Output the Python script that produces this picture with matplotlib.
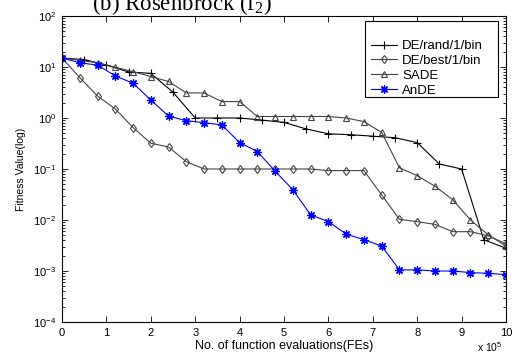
import numpy as np
import matplotlib.pyplot as plt
from matplotlib.patches import Rectangle

plt.rcParams['font.family'] = ['Liberation Sans', 'DejaVu Sans']
plt.rcParams['mathtext.fontset'] = 'custom'
plt.rcParams['mathtext.rm'] = 'Liberation Sans'
plt.rcParams['mathtext.it'] = 'Liberation Sans:italic'

# function evaluations (x 10^5) where each run was logged
fes_rand = [0, 0.5, 1.0, 1.5, 2.0, 2.5, 3.0, 3.5, 4.0, 4.5, 5.0,
            5.5, 6.0, 6.5, 7.0, 7.5, 8.0, 8.5, 9.0, 9.5, 10.0]
fes_other = [0, 0.4, 0.8, 1.2, 1.6, 2.0, 2.4, 2.8, 3.2, 3.6, 4.0, 4.4, 4.8,
             5.2, 5.6, 6.0, 6.4, 6.8, 7.2, 7.6, 8.0, 8.4, 8.8, 9.2, 9.6, 10.0]

# best fitness per algorithm
fit_rand = [15, 14, 10.9, 8.0, 7.5, 3.2, 1.0, 1.0, 1.0, 0.91, 0.82,
            0.61, 0.49, 0.47, 0.44, 0.41, 0.33, 0.125, 0.1, 0.0041, 0.0028]
fit_best = [15, 6.2, 2.7, 1.5, 0.65, 0.32, 0.27, 0.139, 0.1, 0.1, 0.1, 0.1, 0.1,
            0.1, 0.1, 0.093, 0.093, 0.093, 0.031, 0.0103, 0.0093, 0.0082,
            0.0059, 0.0059, 0.0049, 0.0034]
fit_sade = [15, 13.5, 12.1, 9.9, 8.1, 6.5, 5.2, 3.1, 3.1, 2.1, 2.1, 1.07, 1.07,
            1.07, 1.07, 1.07, 1.0, 0.85, 0.52, 0.106, 0.074, 0.046, 0.025,
            0.01, 0.0051, 0.0031]
fit_ande = [15, 12.1, 10.9, 6.7, 4.8, 2.25, 1.09, 0.885, 0.81, 0.73, 0.33, 0.22,
            0.091, 0.039, 0.0126, 0.0093, 0.0053, 0.0041, 0.0031, 0.00105,
            0.00105, 0.001, 0.001, 0.00093, 0.0009, 0.00085]

W, H = 515, 356
fig = plt.figure(figsize=(W / 100, H / 100), dpi=100)
ax = fig.add_axes([62 / W, 1 - 322 / H, 444 / W, 306 / H])

l1, = ax.semilogy(fes_rand, fit_rand, color='black', lw=0.8, marker='+',
                  ms=6, mew=0.8, label='DE/rand/1/bin')
l2, = ax.semilogy(fes_other, fit_best, color='#444444', lw=0.8, marker='d',
                  ms=4.5, mew=0.8, mfc='none', label='DE/best/1/bin')
l3, = ax.semilogy(fes_other, fit_sade, color='#444444', lw=0.8, marker='^',
                  ms=4.5, mew=0.8, mfc='none', label='SADE')
# asterisk = plus and cross on top of each other
l4, = ax.semilogy(fes_other, fit_ande, color='#0000ff', lw=0.8, marker=(8, 2, 0),
                  ms=6, mew=0.9, label='AnDE')

ax.set_xlim(0, 10)
ax.set_ylim(1e-4, 1e2)
ax.set_xticks(range(0, 11))
ax.tick_params(which='both', direction='in', top=True, right=True,
               labelsize=8, width=0.6)
ax.tick_params(which='major', length=4, pad=4)
ax.tick_params(which='minor', length=2)
for s in ax.spines.values():
    s.set_linewidth(0.8)

ax.set_xlabel('No. of function evaluations(FEs)', fontsize=9, labelpad=2)
ax.set_ylabel('Fitness Value(log)', fontsize=7.5, labelpad=5)
fig.text(490 / W, 1 - 352 / H, r'x 10$^5$', fontsize=7.5, ha='center', va='baseline')

# title (Times-like)
fig.text(182 / W, 1 - 10 / H, r'(b) Rosenbrock (f$_{\mathregular{2}}$)',
         fontsize=16.5, family='Liberation Serif', ha='center', va='baseline',
         math_fontfamily='stix')

# legend with a MATLAB-style tall box
ax.add_patch(Rectangle((365 / W, 1 - 97 / H), 133 / W, 76 / H,
                       transform=fig.transFigure, facecolor='white',
                       edgecolor='black', lw=0.8, zorder=5, clip_on=False))
leg = ax.legend(handles=[l1, l2, l3, l4], loc='upper left',
                bbox_to_anchor=(371 / W, 1 - 40 / H), bbox_transform=fig.transFigure,
                frameon=False, fontsize=9.5, handlelength=2.0, handletextpad=0.35,
                labelspacing=0.2, borderpad=0, borderaxespad=0)
leg.set_zorder(6)

fig.savefig('out.png', dpi=100)
